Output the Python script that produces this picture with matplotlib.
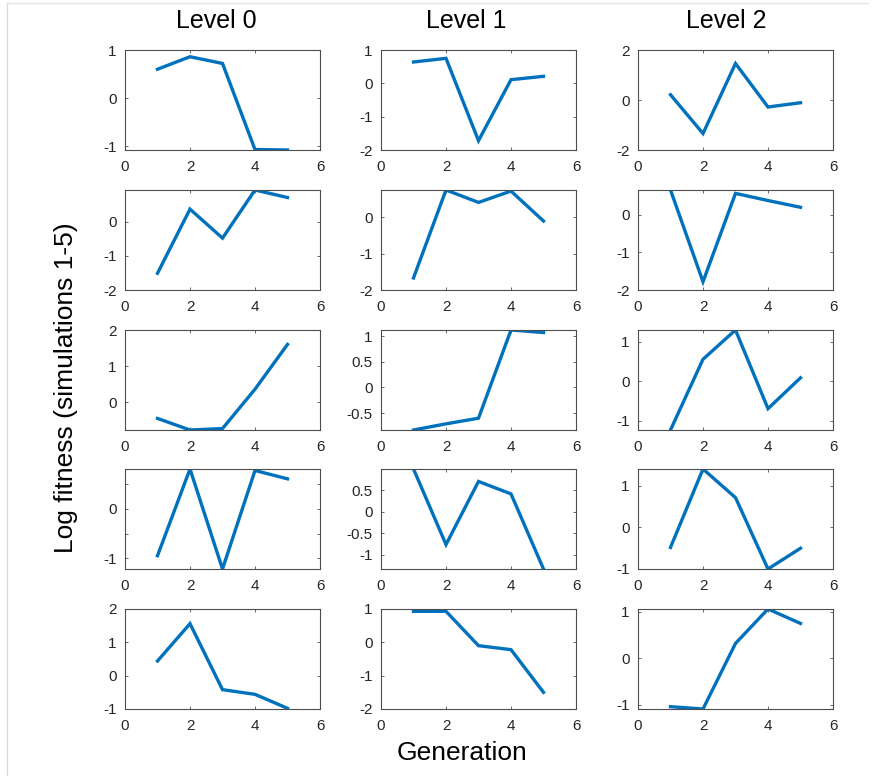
import matplotlib
matplotlib.use("Agg")
import matplotlib.pyplot as plt
from matplotlib.lines import Line2D

plt.rcParams['font.family'] = ['Liberation Sans', 'DejaVu Sans']

generations = [1, 2, 3, 4, 5]
levels = ["Level 0", "Level 1", "Level 2"]

# log fitness values: fitness[level][simulation]
level0 = [
    [0.60, 0.86, 0.72, -1.07, -1.08],
    [-1.51, 0.37, -0.48, 0.93, 0.71],
    [-0.45, -0.77, -0.73, 0.36, 1.60],
    [-0.95, 0.81, -1.22, 0.78, 0.61],
    [0.44, 1.56, -0.42, -0.56, -0.98],
]
level1 = [
    [0.64, 0.75, -1.72, 0.11, 0.21],
    [-1.67, 0.74, 0.40, 0.71, -0.11],
    [-0.83, -0.71, -0.60, 1.12, 1.07],
    [1.00, -0.76, 0.71, 0.42, -1.33],
    [0.93, 0.93, -0.10, -0.22, -1.50],
]
level2 = [
    [0.21, -1.34, 1.46, -0.28, -0.11],
    [0.66, -1.78, 0.57, 0.38, 0.20],
    [-1.23, 0.56, 1.30, -0.69, 0.09],
    [-0.49, 1.40, 0.71, -1.01, -0.51],
    [-1.04, -1.09, 0.32, 1.06, 0.75],
]
fitness = [level0, level1, level2]

# y-axis limits per panel [level][simulation]
ylims = [
    [(-1.08, 1.0), (-2.0, 0.93), (-0.77, 2.0), (-1.22, 0.81), (-1.0, 2.0)],
    [(-2.0, 1.0), (-2.0, 0.74), (-0.83, 1.12), (-1.33, 1.0), (-2.0, 1.0)],
    [(-2.0, 2.0), (-2.0, 0.66), (-1.23, 1.30), (-1.01, 1.40), (-1.09, 1.06)],
]
yticks = [
    [[-1, 0, 1], [-2, -1, 0], [0, 1, 2], [-1, -0.5, 0, 0.5], [-1, 0, 1, 2]],
    [[-2, -1, 0, 1], [-2, -1, 0], [-0.5, 0, 0.5, 1], [-1, -0.5, 0, 0.5], [-2, -1, 0, 1]],
    [[-2, 0, 2], [-2, -1, 0], [-1, 0, 1], [-1, 0, 1], [-1, 0, 1]],
]
yticklabels = [
    [["-1", "0", "1"], ["-2", "-1", "0"], ["0", "1", "2"], ["-1", "", "0", ""], ["-1", "0", "1", "2"]],
    [["-2", "-1", "0", "1"], ["-2", "-1", "0"], ["-0.5", "0", "0.5", "1"], ["-1", "-0.5", "0", "0.5"], ["-2", "-1", "0", "1"]],
    [["-2", "0", "2"], ["-2", "-1", "0"], ["-1", "0", "1"], ["-1", "0", "1"], ["-1", "0", "1"]],
]
xticks = [0, 2, 4, 6]

W, H = 872, 776
fig = plt.figure(figsize=(W / 100, H / 100), dpi=100)

col_left = [125, 381, 638]
row_top = [50, 190, 330, 469, 609]
aw, ah = 195, 100

blue = '#0072BD'
axcol = '#4d4d4d'
txtcol = '#262626'

for c in range(3):
    for r in range(5):
        ax = fig.add_axes([col_left[c] / W, 1 - (row_top[r] + ah) / H, aw / W, ah / H])
        ax.plot(generations, fitness[c][r], color=blue, lw=2.4, solid_joinstyle='miter',
                clip_on=True)
        ax.set_xlim(0, 6)
        ax.set_ylim(*ylims[c][r])
        ax.set_xticks(xticks)
        ax.set_xticklabels([str(x) for x in xticks])
        ax.set_yticks(yticks[c][r])
        ax.set_yticklabels(yticklabels[c][r])
        for s in ax.spines.values():
            s.set_color(axcol)
            s.set_linewidth(0.8)
        ax.tick_params(direction='in', length=2.5, width=0.6, color=axcol,
                       top=True, right=True, labelsize=11, labelcolor=txtcol)
        ax.tick_params(axis='x', pad=7)
        ax.tick_params(axis='y', pad=6)

title_x = [216, 466, 726]
for c in range(3):
    fig.text(title_x[c] / W, 1 - 21 / H, levels[c], ha='center', va='center',
             fontsize=18, color='black')

fig.text(66 / W, 1 - 388 / H, "Log fitness (simulations 1-5)", rotation=90,
         ha='center', va='center', fontsize=19, color='black')
fig.text(462 / W, 1 - 753 / H, "Generation", ha='center', va='center',
         fontsize=19, color='black')

# screenshot frame lines
fig.add_artist(Line2D([6.5 / W, 6.5 / W], [0, 1 - 3 / H], transform=fig.transFigure,
                      color='#d9d9d9', lw=1))
fig.add_artist(Line2D([6.5 / W, 868 / W], [1 - 3 / H, 1 - 3 / H], transform=fig.transFigure,
                      color='#e6e6e6', lw=1))

fig.savefig("out.png", dpi=100)
